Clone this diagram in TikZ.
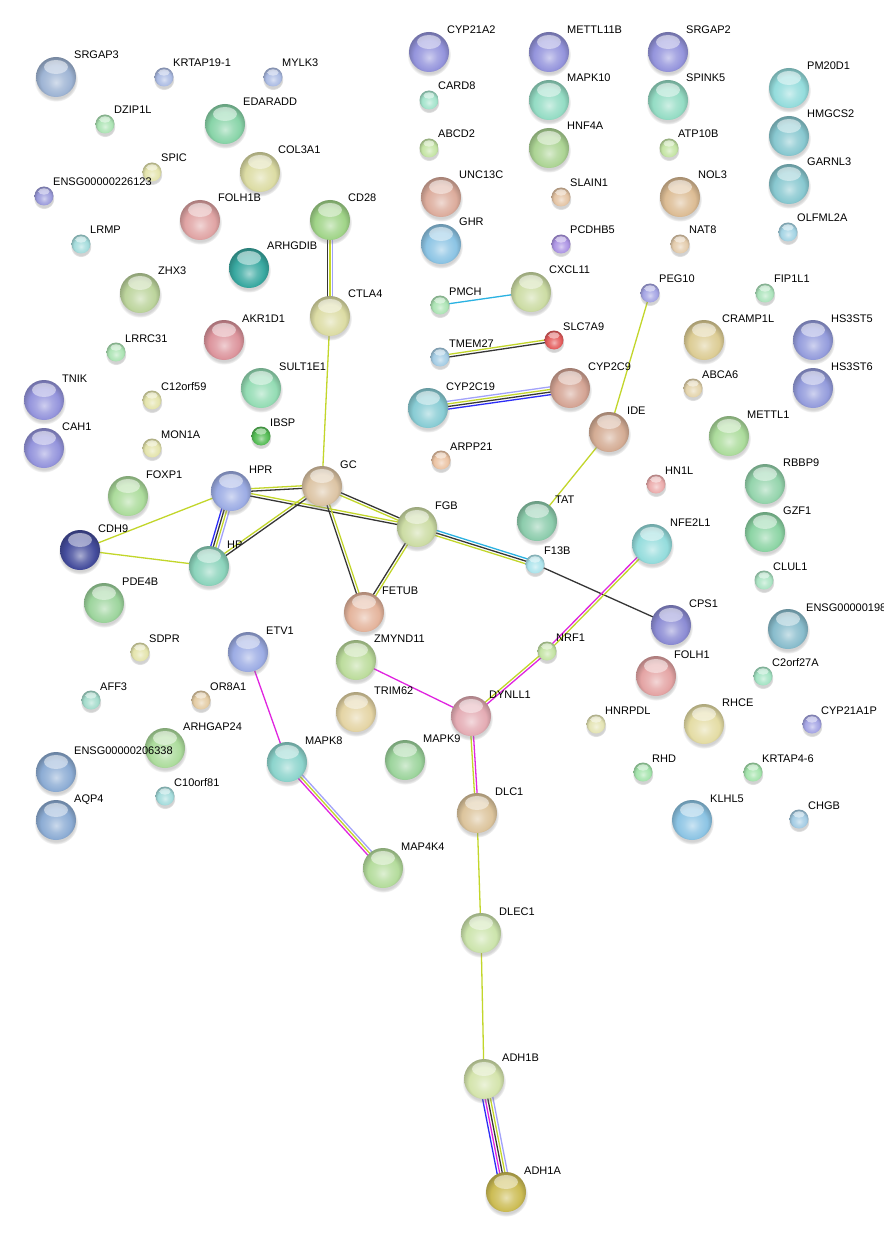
\documentclass[tikz,border=0pt]{standalone}
\usepackage{fontspec}
\setmainfont{Liberation Sans}
\usetikzlibrary{calc,shadows,backgrounds}
\definecolor{yg}{HTML}{C2D62A}
\definecolor{bk}{HTML}{363636}
\definecolor{cy}{HTML}{2AB2E2}
\definecolor{mg}{HTML}{E024E0}
\definecolor{bl}{HTML}{2C2CF6}
\definecolor{lv}{HTML}{A2A2FA}
\definecolor{sbc}{HTML}{888888}
\pgfdeclareradialshading[sbc]{sball}{\pgfpoint{0bp}{-7bp}}{%
 color(0bp)=(sbc!45!white); color(10bp)=(sbc!80!white); color(19bp)=(sbc);
 color(26bp)=(sbc!80!black); color(32bp)=(sbc!68!black); color(50bp)=(sbc!68!black)}
\tikzset{
 ball base/.code={\definecolor{sbc}{HTML}{#1}\tikzset{shade,shading=sball}},
 ballcommon/.style={circle,inner sep=0pt,outer sep=0pt,
   circular drop shadow={shadow xshift=0pt,shadow yshift=-2.5pt,opacity=.35}},
 bigb/.style={ballcommon,ball base=#1,minimum size=40pt,
   path picture={\shade[top color=white,bottom color=sbc!40!white,opacity=.55]
     ([yshift=10pt]path picture bounding box.center) ellipse [x radius=12pt,y radius=7pt];}},
 smb/.style={ballcommon,ball base=#1,minimum size=19pt,
   path picture={\shade[top color=white,bottom color=sbc!40!white,opacity=.55]
     ([yshift=4.5pt]path picture bounding box.center) ellipse [x radius=5.5pt,y radius=3.2pt];}},
 lbl/.style={anchor=base west,inner sep=0pt,font=\fontsize{11}{13}\selectfont},
 edg/.style={line width=1.3pt},
}
\newcommand\BgN[4]{\node[bigb=#4] (#1) at (#2) {};
  \node[lbl] (#1L) at ([xshift=18pt,yshift=18pt]#1.center) {#3};}
\newcommand\SmN[4]{\node[smb=#4] (#1) at (#2) {};
  \node[lbl] (#1L) at ([xshift=9pt,yshift=10pt]#1.center) {#3};}
\newcommand\Ed[3]{%
 \foreach \c [count=\i] in {#3} {\xdef\EdN{\i}}%
 \foreach \c [count=\i] in {#3} {%
   \pgfmathsetmacro\off{(\i-(\EdN+1)/2)*2.6}%
   \draw[edg,\c] ($(#1.center)!\off pt!90:(#2.center)$) -- ($(#2.center)!\off pt!-90:(#1.center)$);}}
\begin{document}
\begin{tikzpicture}[x=1pt,y=-1pt]
\useasboundingbox (0,0) rectangle (883,1238);
% large nodes
\BgN{SRGAP3}{56,77}{SRGAP3}{9EB4D4}
\BgN{EDARADD}{225,124}{EDARADD}{88D4A8}
\BgN{COL3A1}{260,172}{COL3A1}{DCDCA4}
\BgN{FOLH1B}{200,220}{FOLH1B}{E0A4A4}
\BgN{CD28}{330,220}{CD28}{A0D488}
\BgN{ARHGDIB}{249,268}{ARHGDIB}{38A8A0}
\BgN{ZHX3}{140,293}{ZHX3}{BCD49C}
\BgN{CTLA4}{330,316}{CTLA4}{DCDCA4}
\BgN{CYP21A2}{429,52}{CYP21A2}{9494DC}
\BgN{METTL11B}{549,52}{METTL11B}{9494DC}
\BgN{SRGAP2}{668,52}{SRGAP2}{9494DC}
\BgN{PM20D1}{789,88}{PM20D1}{94DCDC}
\BgN{MAPK10}{549,100}{MAPK10}{94DCC4}
\BgN{SPINK5}{668,100}{SPINK5}{94DCC4}
\BgN{HMGCS2}{789,136}{HMGCS2}{88C8D0}
\BgN{HNF4A}{549,148}{HNF4A}{ACD494}
\BgN{GARNL3}{789,184}{GARNL3}{88C8D0}
\BgN{UNC13C}{441,197}{UNC13C}{DCAC9C}
\BgN{NOL3}{680,197}{NOL3}{DCBC94}
\BgN{GHR}{441,244}{GHR}{8CC4E4}
\BgN{CXCL11}{531,292}{CXCL11}{CCDCA4}
\BgN{CRAMP1L}{704,340}{CRAMP1L}{DCCC94}
\BgN{HSthreeSTfive}{813,340}{HS3ST5}{949CDC}
\BgN{CYPtwoCnineteen}{428,408}{CYP2C19}{88CCD4}
\BgN{CYPtwoCnine}{570,388}{CYP2C9}{D4A494}
\BgN{HSthreeSTsix}{813,388}{HS3ST6}{949CDC}
\BgN{IDE}{609,432}{IDE}{D4AC94}
\BgN{METTL1}{729,436}{METTL1}{ACDC9C}
\BgN{RBBP9}{765,484}{RBBP9}{94D4AC}
\BgN{TAT}{537,521}{TAT}{8CCCAC}
\BgN{FGB}{417,527}{FGB}{CCDCA4}
\BgN{GZF1}{765,532}{GZF1}{8CD4A4}
\BgN{NFE2L1}{652,544}{NFE2L1}{94DCDC}
\BgN{CPS1}{671,625}{CPS1}{8C8CD4}
\BgN{ENSGa}{788,629}{ENSG00000198}{88BCCC}
\BgN{AKR1D1}{224,340}{AKR1D1}{DC949C}
\BgN{TNIK}{44,400}{TNIK}{9494DC}
\BgN{SULT1E1}{261,388}{SULT1E1}{94DCB4}
\BgN{CAH1}{44,448}{CAH1}{9494DC}
\BgN{FOXP1}{128,496}{FOXP1}{ACDC9C}
\BgN{HPR}{231,491}{HPR}{9CACE4}
\BgN{GC}{322,486}{GC}{DCC4A4}
\BgN{CDH9}{80,550}{CDH9}{444C9C}
\BgN{HP}{209,566}{HP}{8CD4BC}
\BgN{PDE4B}{104,603}{PDE4B}{9CD49C}
\BgN{FETUB}{364,612}{FETUB}{E4B49C}
\BgN{ETV1}{248,652}{ETV1}{9CACE4}
\BgN{ZMYND11}{356,660}{ZMYND11}{BCDC9C}
\BgN{TRIM62}{356,712}{TRIM62}{E4D4A4}
\BgN{ARHGAP24}{165,748}{ARHGAP24}{ACDC9C}
\BgN{MAPK8}{287,762}{MAPK8}{8CD4CC}
\BgN{MAPK9}{405,760}{MAPK9}{9CD49C}
\BgN{ENSGb}{56,772}{ENSG00000206338}{8CACD4}
\BgN{AQP4}{56,820}{AQP4}{8CACD4}
\BgN{MAP4K4}{383,868}{MAP4K4}{B4DC9C}
\BgN{DYNLL1}{471,716}{DYNLL1}{E4ACB4}
\BgN{FOLH1}{656,676}{FOLH1}{E4A4A4}
\BgN{RHCE}{704,724}{RHCE}{E4DCA4}
\BgN{DLC1}{477,813}{DLC1}{DCC49C}
\BgN{KLHL5}{692,820}{KLHL5}{8CC4E4}
\BgN{DLEC1}{481,933}{DLEC1}{CCE4AC}
\BgN{ADH1B}{484,1079}{ADH1B}{D4E4AC}
\BgN{ADH1A}{506,1192}{ADH1A}{CCBC54}
% small nodes
\SmN{KRTAP}{164,77}{KRTAP19-1}{ACBCE4}
\SmN{MYLK3}{273,77}{MYLK3}{ACBCE4}
\SmN{DZIP1L}{105,124}{DZIP1L}{ACE4B4}
\SmN{SPIC}{152,172}{SPIC}{E4E4AC}
\SmN{ENSGc}{44,196}{ENSG00000226123}{9C9CDC}
\SmN{LRMP}{81,244}{LRMP}{A4DCDC}
\SmN{CARD8}{429,100}{CARD8}{A4E4CC}
\SmN{ABCD2}{429,148}{ABCD2}{C4E4A4}
\SmN{ATP10B}{669,148}{ATP10B}{C4E4A4}
\SmN{SLAIN1}{561,197}{SLAIN1}{E4C4A4}
\SmN{PCDHB5}{561,244}{PCDHB5}{AC94E4}
\SmN{NAT8}{680,244}{NAT8}{E4CCAC}
\SmN{OLFML2A}{788,232}{OLFML2A}{A4D4E4}
\SmN{PMCH}{440,305}{PMCH}{ACE4B4}
\SmN{PEG10}{650,293}{PEG10}{A4A4E4}
\SmN{FIP1L1}{765,293}{FIP1L1}{ACE4BC}
\SmN{TMEM27}{440,357}{TMEM27}{A4CCE4}
\SmN{SLC7A9}{554,340}{SLC7A9}{E45C5C}
\SmN{ABCA6}{693,388}{ABCA6}{E4D4AC}
\SmN{ARPP21}{441,460}{ARPP21}{ECC4A4}
\SmN{HN1L}{656,484}{HN1L}{ECACAC}
\SmN{F13B}{535,564}{F13B}{ACE4EC}
\SmN{CLUL1}{764,580}{CLUL1}{ACE4C4}
\SmN{LRRC31}{116,352}{LRRC31}{ACE4B4}
\SmN{Ctwelve}{152,400}{C12orf59}{E4E4AC}
\SmN{MON1A}{152,448}{MON1A}{E4E4AC}
\SmN{IBSP}{261,436}{IBSP}{54BC54}
\SmN{SDPR}{140,652}{SDPR}{E4E4AC}
\SmN{AFF3}{91,700}{AFF3}{A4DCCC}
\SmN{OR8A1}{201,700}{OR8A1}{E4CCA4}
\SmN{Cten}{165,796}{C10orf81}{A4DCDC}
\SmN{NRF1}{547,651}{NRF1}{C4E4A4}
\SmN{Ctwo}{763,676}{C2orf27A}{A4E4C4}
\SmN{HNRPDL}{596,724}{HNRPDL}{E4E4B4}
\SmN{CYPtwoOneP}{812,724}{CYP21A1P}{A4A4E4}
\SmN{RHD}{643,772}{RHD}{A4E4AC}
\SmN{KRTAPfour}{753,772}{KRTAP4-6}{A4E4AC}
\SmN{CHGB}{799,819}{CHGB}{A4CCE4}
% edges
\begin{scope}[on background layer]
\fill[white] (0,0) rectangle (883,1238);
\Ed{CD28}{CTLA4}{bk,yg,lv}
\Ed{CTLA4}{GC}{yg}
\Ed{PMCH}{CXCL11}{cy}
\Ed{TMEM27}{SLC7A9}{bk,yg}
\Ed{CYPtwoCnineteen}{CYPtwoCnine}{bl,bk,yg,lv}
\Ed{PEG10}{IDE}{yg}
\Ed{IDE}{TAT}{yg}
\Ed{HPR}{GC}{bk,yg}
\Ed{HPR}{FGB}{bk,yg}
\Ed{HPR}{HP}{bl,bk,yg,lv}
\Ed{HPR}{CDH9}{yg}
\Ed{CDH9}{HP}{yg}
\Ed{HP}{GC}{bk,yg}
\Ed{GC}{FGB}{yg,bk}
\Ed{GC}{FETUB}{bk,yg}
\Ed{FGB}{FETUB}{bk,yg}
\Ed{FGB}{F13B}{yg,bk,cy}
\Ed{F13B}{CPS1}{bk}
\Ed{NFE2L1}{NRF1}{mg,yg}
\Ed{NRF1}{DYNLL1}{yg,mg}
\Ed{ZMYND11}{DYNLL1}{mg}
\Ed{DYNLL1}{DLC1}{yg,mg}
\Ed{DLC1}{DLEC1}{yg}
\Ed{DLEC1}{ADH1B}{yg}
\Ed{ADH1B}{ADH1A}{bl,mg,bk,yg,lv}
\Ed{ETV1}{MAPK8}{mg}
\Ed{MAPK8}{MAP4K4}{mg,yg,lv}
\end{scope}
\end{tikzpicture}
\end{document}
